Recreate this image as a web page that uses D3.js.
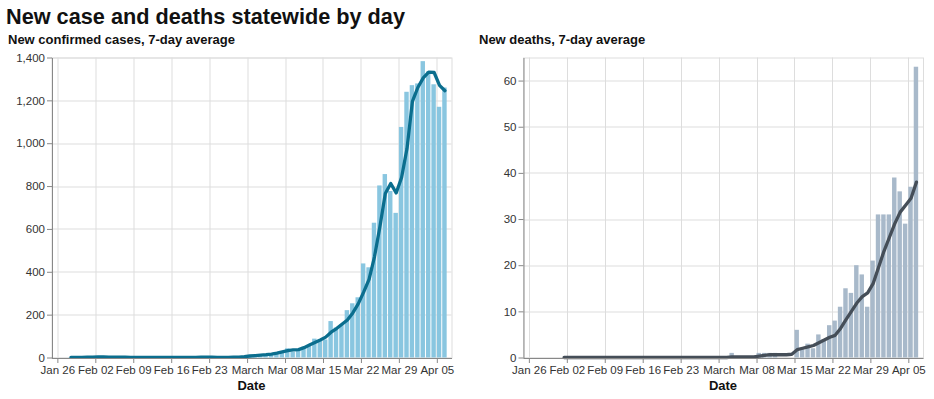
<!DOCTYPE html>
<html><head><meta charset="utf-8">
<script src="https://cdn.jsdelivr.net/npm/d3@7"></script>
<style>body{margin:0;background:#fff;} svg{display:block}</style>
</head><body><svg id="c" width="934" height="399"></svg>
<script>
// ---- data (one row per week) ----
const caseStart = "2020-01-28";
const caseCounts = [
  1, 0, 0, 2,                        // Jan 28-31
  1, 3, 2, 1, 2, 0, 1,               // Feb 1-7
  0, 0, 1, 0, 1, 0, 0,               // Feb 8-14
  1, 0, 0, 1, 0, 2, 1,               // Feb 15-21
  0, 1, 0, 1, 1, 2, 2,               // Feb 22-28
  3,                                 // Feb 29
  4, 8, 10, 14, 16, 20, 22,          // Mar 1-7
  43, 27, 35, 50, 55, 88, 82,        // Mar 8-14
  84, 170, 140, 155, 221, 253, 281,  // Mar 15-21
  439, 421, 629, 803, 856, 777, 675, // Mar 22-28
  1076, 1240, 1271,                  // Mar 29-31
  1279, 1383, 1335, 1275, 1170, 1260 // Apr 1-6
];
const caseAvg = [
  1, 1, 1, 1.5,                      // Jan 28-31
  2, 2.5, 2.5, 2, 2, 1.5, 1.5,       // Feb 1-7
  1, 1, 1, 1, 1, 1, 1,               // Feb 8-14
  1, 1, 1, 1, 1, 1, 1.5,             // Feb 15-21
  1.5, 1.5, 1, 1, 1, 1.5, 2,         // Feb 22-28
  4,                                 // Feb 29
  7, 9, 11, 13, 16, 20, 26,          // Mar 1-7
  32, 36, 37, 46, 58, 70, 82,        // Mar 8-14
  95, 118, 135, 155, 175, 208, 250,  // Mar 15-21
  305, 365, 470, 610, 765, 812, 768, // Mar 22-28
  840, 975, 1195,                    // Mar 29-31
  1260, 1305, 1332, 1330, 1270, 1245 // Apr 1-6
];
const deathStart = "2020-02-01";
const deathCounts = [
  0, 0, 0, 0, 0, 0, 0,               // Feb 1-7
  0, 0, 0, 0, 0, 0, 0,               // Feb 8-14
  0, 0, 0, 0, 0, 0, 0,               // Feb 15-21
  0, 0, 0, 0, 0, 0, 0,               // Feb 22-28
  0,                                 // Feb 29
  0, 0, 1, 0, 0, 0, 0,               // Mar 1-7
  1, 1, 1, 1, 0, 0, 0,               // Mar 8-14
  6, 2, 3, 2, 5, 4, 7,               // Mar 15-21
  8, 11, 15, 14, 20, 18, 11,         // Mar 22-28
  21, 31, 31,                        // Mar 29-31
  31, 39, 36, 29, 37, 63             // Apr 1-6
];
const deathAvg = [
  0, 0, 0, 0, 0, 0, 0,               // Feb 1-7
  0, 0, 0, 0, 0, 0, 0,               // Feb 8-14
  0, 0, 0, 0, 0, 0, 0,               // Feb 15-21
  0, 0, 0, 0, 0, 0, 0,               // Feb 22-28
  0,                                 // Feb 29
  0, 0, 0.15, 0.15, 0.15, 0.15, 0.15,// Mar 1-7
  0.3, 0.45, 0.6, 0.6, 0.6, 0.6, 0.7,// Mar 8-14
  1.7, 2.0, 2.3, 2.6, 3.2, 3.8, 4.4, // Mar 15-21
  4.8, 6.3, 8.2, 10, 11.8, 13.2, 14, // Mar 22-28
  16, 19.5, 23,                      // Mar 29-31
  26, 29, 31.5, 33, 34.5, 38         // Apr 1-6
];
const caseYTicks = [0, 200, 400, 600, 800, 1000, 1200, 1400];
const deathYTicks = [0, 10, 20, 30, 40, 50, 60];
const caseYMax = 1400, deathYMax = 65;
const xDomainStart = "2020-01-24T22:00", xDomainEnd = "2020-04-07T17:00";
const titleText = "New case and deaths statewide by day";
const caseTitle = "New confirmed cases, 7-day average";
const deathTitle = "New deaths, 7-day average";
const xTitle = "Date";

// ---- drawing ----
const svg = d3.select("#c");
const FONT = "'Liberation Sans', Arial, sans-serif";
const parseDay = d3.timeParse("%Y-%m-%d");
const parseDT = d3.timeParse("%Y-%m-%dT%H:%M");
const W = 400, H = 300;

svg.append("text").attr("x", 6).attr("y", 24)
  .attr("font-family", FONT).attr("font-weight", "bold").attr("font-size", 21.7)
  .attr("fill", "#111").text(titleText);

function panel(ox, oy, subtitle, subX, startStr, counts, avg, yMax, yTicks, barColor, lineColor) {
  const start = parseDay(startStr);
  const dates = counts.map((_, i) => d3.timeDay.offset(start, i));
  const x = d3.scaleTime().domain([parseDT(xDomainStart), parseDT(xDomainEnd)]).range([0, W]);
  const y = d3.scaleLinear().domain([0, yMax]).range([H, 0]);

  svg.append("text").attr("x", subX).attr("y", 44)
    .attr("font-family", FONT).attr("font-weight", "bold").attr("font-size", 13)
    .attr("fill", "#111").text(subtitle);

  const g = svg.append("g").attr("transform", `translate(${ox},${oy})`);
  const weeks = d3.timeWeek.range(d3.timeDay.ceil(x.domain()[0]), x.domain()[1]);

  // grid
  g.append("g").selectAll("line").data(weeks).join("line")
    .attr("x1", d => Math.round(x(d)) + 0.5).attr("x2", d => Math.round(x(d)) + 0.5)
    .attr("y1", 0).attr("y2", H).attr("stroke", "#ddd");
  g.append("g").selectAll("line").data(yTicks).join("line")
    .attr("y1", d => Math.round(y(d)) + 0.5).attr("y2", d => Math.round(y(d)) + 0.5)
    .attr("x1", 0).attr("x2", W).attr("stroke", "#ddd");
  g.append("rect").attr("x", 0.5).attr("y", 0.5).attr("width", W).attr("height", H)
    .attr("fill", "none").attr("stroke", "#ddd");

  // bars
  g.append("g").selectAll("rect").data(counts).join("rect")
    .attr("x", (d, i) => x(dates[i]))
    .attr("width", (d, i) => Math.max(0, x(d3.timeDay.offset(dates[i], 1)) - x(dates[i]) - 1))
    .attr("y", d => y(d)).attr("height", d => H - y(d))
    .attr("fill", barColor);

  // line
  const pts = avg.map((v, i) => [x(d3.timeHour.offset(dates[i], 12)), y(v)]);
  g.append("path").attr("d", d3.line()(pts))
    .attr("fill", "none").attr("stroke", lineColor).attr("stroke-width", 3.3)
    .attr("stroke-linejoin", "round").attr("stroke-linecap", "round");

  // axes
  const fmt = d => d.getDate() === 1 ? d3.timeFormat("%B")(d) : d3.timeFormat("%b %d")(d);
  const xa = g.append("g").attr("transform", `translate(0,${H + 0.5})`)
    .call(d3.axisBottom(x).tickValues(weeks).tickFormat(fmt).tickSize(5).tickSizeOuter(0).tickPadding(3));
  const ya = g.append("g").attr("transform", "translate(0.5,0)")
    .call(d3.axisLeft(y).tickValues(yTicks).tickFormat(d3.format(",")).tickSize(5).tickSizeOuter(0).tickPadding(2));
  [xa, ya].forEach(a => {
    a.select(".domain").attr("stroke", "#888");
    a.selectAll(".tick line").attr("stroke", "#888");
    a.selectAll(".tick text").attr("font-family", FONT).attr("font-size", 11.5).attr("fill", "#333");
  });
  g.append("text").attr("x", W / 2).attr("y", H + 32).attr("text-anchor", "middle")
    .attr("font-family", FONT).attr("font-weight", "bold").attr("font-size", 13)
    .attr("fill", "#111").text(xTitle);
}

panel(51.5, 57.5, caseTitle, 8, caseStart, caseCounts, caseAvg, caseYMax, caseYTicks, "#89c6e0", "#0b6e8e");
panel(523, 57.5, deathTitle, 479, deathStart, deathCounts, deathAvg, deathYMax, deathYTicks, "#a8b9ca", "#454e58");
</script></body></html>
